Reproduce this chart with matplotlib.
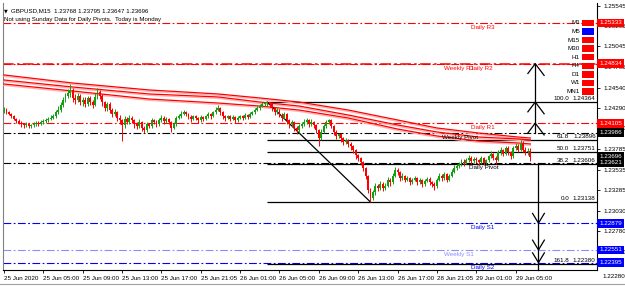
import matplotlib
matplotlib.use('Agg')
import matplotlib.pyplot as plt
import matplotlib.transforms as mtransforms
import matplotlib.patheffects as pe
import numpy as np

FONT = ['Liberation Sans', 'DejaVu Sans']
plt.rcParams['font.family'] = FONT

# ---------------- data ----------------
symbol = 'GBPUSD,M15'
first_open = 1.2425
close = [
1.2427,1.2424,1.2422,1.2419,1.2416,1.2413,1.2411,1.2409,1.2408,1.2409,
1.2407,1.2408,1.2409,1.2411,1.2409,1.2412,1.2413,1.2414,1.2416,1.2417,
1.2419,1.2424,1.2427,1.2433,1.2439,1.2444,1.2447,1.2451,1.2441,1.2439,
1.2444,1.2436,1.2439,1.2434,1.2441,1.2436,1.2433,1.2443,1.2449,1.2444,
1.2436,1.2429,1.2434,1.2427,1.2422,1.2424,1.2417,1.2414,1.2408,1.2416,
1.2412,1.2417,1.2414,1.2409,1.2407,1.2412,1.2405,1.2402,1.2409,1.2407,
1.2414,1.2412,1.2409,1.2414,1.2417,1.2413,1.2416,1.2412,1.2405,1.2409,
1.2417,1.2419,1.2422,1.2424,1.2422,1.2418,1.2416,1.2419,1.2417,1.2414,
1.2418,1.2416,1.2419,1.2422,1.2419,1.2424,1.2427,1.2429,1.2424,1.2419,
1.2417,1.2419,1.2416,1.2418,1.2414,1.2417,1.2419,1.2417,1.2421,1.2418,
1.2422,1.2424,1.2427,1.2429,1.2432,1.2434,1.2435,1.2436,1.2434,1.2429,
1.2424,1.2427,1.2421,1.2417,1.2422,1.2414,1.2409,1.2412,1.2405,1.2402,
1.2407,1.2409,1.2412,1.2414,1.2409,1.2412,1.2408,1.2402,1.2392,1.2400,
1.2407,1.2412,1.2414,1.2407,1.2400,1.2395,1.2397,1.2392,1.2387,1.2390,
1.2385,1.2382,1.2378,1.2371,1.2368,1.2363,1.2356,1.2346,1.2329,1.2319,
1.2326,1.2334,1.2331,1.2336,1.2331,1.2334,1.2341,1.2338,1.2346,1.2353,
1.2351,1.2343,1.2346,1.2341,1.2343,1.2338,1.2341,1.2343,1.2338,1.2341,
1.2336,1.2340,1.2342,1.2338,1.2336,1.2334,1.2341,1.2346,1.2343,1.2348,
1.2341,1.2346,1.2351,1.2356,1.2358,1.2360,1.2363,1.2362,1.2365,1.2368,
1.2364,1.2367,1.2365,1.2363,1.2368,1.2362,1.2365,1.2370,1.2373,1.2368,
1.2365,1.2375,1.2378,1.2373,1.2380,1.2375,1.2370,1.2380,1.2382,1.2378,
1.2385,1.2378,1.2375,1.23768,1.23696]
high = [
1.2430,1.2429,1.2426,1.2423,1.2421,1.2417,1.2415,1.2413,1.2411,1.2412,
1.2411,1.2410,1.2412,1.2413,1.2413,1.2414,1.2416,1.2417,1.2418,1.2420,
1.2422,1.2427,1.2431,1.2436,1.2443,1.2448,1.2452,1.2458,1.2454,1.2446,
1.2448,1.2446,1.2442,1.2442,1.2444,1.2444,1.2439,1.2447,1.2454,1.2451,
1.2446,1.2438,1.2437,1.2436,1.2429,1.2428,1.2426,1.2420,1.2416,1.2419,
1.2418,1.2420,1.2419,1.2416,1.2412,1.2415,1.2413,1.2407,1.2412,1.2411,
1.2417,1.2416,1.2414,1.2417,1.2420,1.2419,1.2418,1.2417,1.2413,1.2412,
1.2419,1.2422,1.2425,1.2427,1.2426,1.2423,1.2420,1.2421,1.2421,1.2418,
1.2420,1.2419,1.2421,1.2424,1.2423,1.2426,1.2430,1.2433,1.2430,1.2426,
1.2421,1.2421,1.2420,1.2420,1.2419,1.2419,1.2421,1.2421,1.2423,1.2422,
1.2424,1.2426,1.2429,1.2431,1.2434,1.2436,1.2436,1.24364,1.2436,1.2435,
1.2430,1.2429,1.2428,1.2423,1.2424,1.2423,1.2416,1.2414,1.2413,1.2407,
1.2409,1.2412,1.2415,1.2417,1.2415,1.2415,1.2413,1.2409,1.2403,1.2403,
1.2410,1.2414,1.2416,1.2415,1.2408,1.2402,1.2399,1.2398,1.2393,1.2392,
1.2391,1.2387,1.2384,1.2379,1.2373,1.2369,1.2364,1.2357,1.2347,1.2331,
1.2329,1.2337,1.2336,1.2339,1.2338,1.2337,1.2344,1.2343,1.2349,1.2357,
1.2355,1.2352,1.2349,1.2347,1.2346,1.2345,1.2343,1.2346,1.2345,1.2343,
1.2342,1.2342,1.2345,1.2344,1.2340,1.2338,1.2343,1.2349,1.2348,1.2351,
1.2350,1.2348,1.2354,1.2359,1.2361,1.2363,1.2366,1.2366,1.2368,1.2371,
1.2370,1.2369,1.2369,1.2367,1.2370,1.2369,1.2367,1.2372,1.2376,1.2374,
1.2370,1.2377,1.2381,1.2379,1.2383,1.2382,1.2376,1.2383,1.2386,1.2385,
1.2390,1.2389,1.2381,1.2380,1.23795]
low = [
1.2423,1.2422,1.2420,1.2417,1.2414,1.2411,1.2409,1.2406,1.2405,1.2406,
1.2404,1.2405,1.2406,1.2407,1.2407,1.2408,1.2410,1.2411,1.2412,1.2414,
1.2415,1.2417,1.2422,1.2424,1.2430,1.2436,1.2441,1.2443,1.2437,1.2434,
1.2436,1.2433,1.2432,1.2430,1.2431,1.2433,1.2429,1.2431,1.2440,1.2440,
1.2432,1.2425,1.2426,1.2423,1.2418,1.2419,1.2413,1.2410,1.2389,1.2405,
1.2409,1.2410,1.2411,1.2405,1.2403,1.2404,1.2401,1.2398,1.2400,1.2404,
1.2405,1.2409,1.2406,1.2407,1.2412,1.2410,1.2411,1.2409,1.2400,1.2403,
1.2407,1.2415,1.2417,1.2420,1.2419,1.2415,1.2412,1.2414,1.2414,1.2411,
1.2412,1.2413,1.2414,1.2417,1.2416,1.2418,1.2422,1.2425,1.2421,1.2416,
1.2413,1.2415,1.2413,1.2414,1.2411,1.2412,1.2415,1.2414,1.2415,1.2415,
1.2417,1.2420,1.2422,1.2425,1.2427,1.2430,1.2431,1.2432,1.2430,1.2426,
1.2421,1.2422,1.2418,1.2413,1.2415,1.2410,1.2405,1.2406,1.2401,1.2397,
1.2399,1.2404,1.2407,1.2410,1.2406,1.2407,1.2404,1.2398,1.2382,1.2390,
1.2398,1.2405,1.2409,1.2404,1.2396,1.2391,1.2392,1.2388,1.2384,1.2385,
1.2381,1.2378,1.2374,1.2367,1.2364,1.2359,1.2352,1.2342,1.2325,1.23138,
1.2316,1.2323,1.2327,1.2328,1.2327,1.2328,1.2332,1.2334,1.2336,1.2344,
1.2347,1.2340,1.2341,1.2338,1.2339,1.2335,1.2336,1.2339,1.2335,1.2336,
1.2332,1.2334,1.2338,1.2335,1.2332,1.2328,1.2331,1.2339,1.2340,1.2341,
1.2338,1.2339,1.2344,1.2349,1.2353,1.2355,1.2358,1.2358,1.2360,1.2363,
1.2361,1.2362,1.2362,1.2359,1.2361,1.2359,1.2360,1.2363,1.2368,1.2365,
1.2361,1.2364,1.2372,1.2370,1.2371,1.2372,1.2366,1.2368,1.2377,1.2375,
1.2376,1.2375,1.2372,1.2372,1.23647]

# moving averages read at a few bars
ma_bars  = [0, 28, 59, 87, 104, 120, 140, 160, 176, 193, 209, 214]
ma_upper = [1.24696,1.24597,1.24512,1.24463,1.24414,1.24364,1.24266,1.24144,1.24046,1.23984,1.23935,1.23923]
ma_mid   = [1.24634,1.24548,1.24463,1.24426,1.24364,1.24315,1.24205,1.24083,1.23997,1.23935,1.23911,1.23899]
ma_lower = [1.24585,1.24499,1.24401,1.24352,1.24315,1.24266,1.24168,1.24033,1.23948,1.23886,1.23862,1.23850]

# fibonacci retracement
fib_start_bar = 107
fib_levels = ['100.0', '61.8', '50.0', '38.2', '0.0', '161.8']
fib_prices = [1.24364, 1.23896, 1.23751, 1.23606, 1.23138, 1.22380]
fib_trend_bars = [107, 149]
fib_trend_prices = [1.24364, 1.23138]

# pivot levels
pivot_names  = ['Daily R3', 'Weekly R1', 'Daily R2', 'Daily R1', 'Weekly Pivot', 'Daily Pivot', 'Daily S1', 'Weekly S1', 'Daily S2']
pivot_prices = [1.25333, 1.24834, 1.24834, 1.24105, 1.23986, 1.23621, 1.22879, 1.22551, 1.22395]
pivot_colors = ['#ff0000', '#ff0000', '#ff0000', '#ff0000', '#000000', '#000000', '#0000ff', '#8c8cff', '#0000ff']
pivot_label_bars = [190, 179, 189, 190, 178, 189, 190, 179, 190]

# right-axis price boxes
box_prices = [1.25333, 1.24834, 1.24105, 1.23986, 1.23696, 1.23621, 1.22879, 1.22551, 1.22395]
box_colors = ['#ff0000', '#ff0000', '#ff0000', '#000000', '#000000', '#000000', '#0000ff', '#0000ff', '#0000ff']

ytick_values = [1.25545, 1.25295, 1.25045, 1.24795, 1.24540, 1.24290, 1.24040,
                1.23785, 1.23535, 1.23285, 1.23030, 1.22780, 1.22530]
ytick_extra = 1.22280
xtick_bars = [0, 16, 32, 48, 64, 80, 96, 112, 128, 144, 160, 176, 192, 208]
xtick_labels = ['25 Jun 2020', '25 Jun 05:00', '25 Jun 09:00', '25 Jun 13:00', '25 Jun 17:00',
                '25 Jun 21:05', '26 Jun 01:00', '26 Jun 05:00', '26 Jun 09:00', '26 Jun 13:00',
                '26 Jun 17:00', '28 Jun 21:05', '29 Jun 01:00', '29 Jun 05:00']

# hand drawn arrows
arrow_up_bar = 216.0
arrow_up_from = 1.23986
arrow_up_heads = [1.24105, 1.24364, 1.24834]
arrow_dn_bar = 217.3
arrow_dn_from = 1.23621
arrow_dn_heads = [1.22879, 1.22551, 1.22395]

tf_names = ['M1', 'M5', 'M15', 'M30', 'H1', 'H4', 'D1', 'W1', 'MN1']
tf_colors = ['#ff0000', '#0000ff', '#ff0000', '#ff0000', '#ff0000', '#ff0000', '#ff0000', '#ff0000', '#ff0000']

# ---------------- figure ----------------
W, H = 625, 288
fig = plt.figure(figsize=(W / 100, H / 100), dpi=100)
fig.patch.set_facecolor('white')
ax = fig.add_axes([3 / W, 18 / H, 594 / W, 267 / H])
ax.set_xlim(-0.41, 241.1)
ax.set_ylim(1.22305, 1.25578)
FS = 4.5     # chart texts
FSA = 4.5    # axis texts
FSH = 4.4    # header

c = np.array(close)
o = np.array([first_open] + close[:-1])
hi = np.maximum(np.array(high), np.maximum(o, c))
lo = np.minimum(np.array(low), np.minimum(o, c))
idx = np.arange(len(c))
cols = np.where(c >= o, '#10a010', '#ff0000')

# pivot lines
dash = (0, (7, 2.2, 1.6, 2.2))
for name, p, col, lb in zip(pivot_names, pivot_prices, pivot_colors, pivot_label_bars):
    lw = 1.1 if name == 'Weekly R1' else 0.8
    ax.axhline(p, color=col, lw=lw, ls=dash, zorder=1)
    ax.annotate(name, xy=(lb, p), xytext=(0, -1.6), textcoords='offset points',
                ha='left', va='top', fontsize=FS, color=col, zorder=6)

# fib
ax.hlines(fib_prices, fib_start_bar, 241.1, color='black', lw=0.9, zorder=2)
ax.plot(fib_trend_bars, fib_trend_prices, color='black', lw=0.9, zorder=4)
trans = mtransforms.blended_transform_factory(ax.transAxes, ax.transData)
for lvl, p in zip(fib_levels, fib_prices):
    ax.annotate(f'{p:.5f}', xy=(1, p), xycoords=trans, xytext=(-1, 0.8),
                textcoords='offset points', ha='right', va='bottom', fontsize=FS, zorder=6)
    ax.annotate(lvl, xy=(1, p), xycoords=trans, xytext=(-20, 0.8),
                textcoords='offset points', ha='right', va='bottom', fontsize=FS, zorder=6)

# moving averages
for arr in (ma_upper, ma_mid, ma_lower):
    ax.plot(ma_bars, arr, color='#ff0000', lw=0.9, zorder=3,
            path_effects=[pe.SimpleLineShadow(offset=(0, -1.0), shadow_color='#ffb0b0', alpha=1.0),
                          pe.Normal()])

# candles
ax.vlines(idx, lo, hi, colors=cols, lw=0.7, zorder=5)
ax.bar(idx, np.maximum(np.abs(c - o), 0.000015), bottom=np.minimum(o, c), width=0.78,
       color=cols, linewidth=0, zorder=5)

# arrows
aw = 3.0
ah = 0.0012
ax.plot([arrow_up_bar, arrow_up_bar], [arrow_up_from, arrow_up_heads[-1]], color='black', lw=0.9, zorder=6)
for p in arrow_up_heads:
    ax.plot([arrow_up_bar - aw, arrow_up_bar, arrow_up_bar + aw * 1.2], [p - ah, p, p - ah * 1.2],
            color='black', lw=0.9, zorder=6)
ax.plot([arrow_dn_bar, arrow_dn_bar], [arrow_dn_from, 1.2230], color='black', lw=0.9, zorder=6, clip_on=False)
for p in arrow_dn_heads:
    ax.plot([arrow_dn_bar - aw * 0.8, arrow_dn_bar, arrow_dn_bar + aw * 0.8], [p + ah, p, p + ah],
            color='black', lw=0.9, zorder=6)

# axes styling
ax.spines['top'].set_visible(False)
for s in ('left', 'bottom', 'right'):
    ax.spines[s].set_linewidth(0.8)
    ax.spines[s].set_color('black')
ax.spines['left'].set_color('#808080')
ax.yaxis.tick_right()
ax.set_yticks(ytick_values)
ax.set_yticklabels([f'{v:.5f}' for v in ytick_values])
ax.tick_params(axis='y', length=2.5, width=0.6, pad=2.2, labelsize=FSA, direction='out')
ax.set_xticks(xtick_bars)
ax.set_xticklabels(xtick_labels)
ax.tick_params(axis='x', length=2.5, width=0.6, pad=2.0, labelsize=FSA, direction='out')
for lab in ax.get_xticklabels():
    lab.set_ha('left')
ax.annotate(f'{ytick_extra:.5f}', xy=(1, ytick_extra), xycoords=trans, xytext=(4.0, -3.0),
            textcoords='offset points', ha='left', va='center', fontsize=FSA, annotation_clip=False)

# price boxes
for p, col in zip(box_prices, box_colors):
    ax.annotate(f'{p:.5f}', xy=(1, p), xycoords=trans, xytext=(1.6, 0), textcoords='offset points',
                ha='left', va='center', fontsize=FSA, color='white', annotation_clip=False,
                bbox=dict(boxstyle='square,pad=0.3', fc=col, ec='none'), zorder=10)

# timeframe legend
for k, (nm, col) in enumerate(zip(tf_names, tf_colors)):
    ypx = 23 + 8.55 * k
    fig.text(580 / W, 1 - ypx / H, nm, ha='right', va='center', fontsize=FS)
    fig.patches.append(plt.Rectangle((582 / W, 1 - (ypx + 3.2) / H), 12 / W, 6.4 / H,
                                     transform=fig.transFigure, fc=col, ec='none', figure=fig))

# header
lo_last, hi_last = low[-1], high[-1]
fig.text(4 / W, 1 - 11 / H, '\u25bc', fontsize=3.5, ha='left', va='center', family=['DejaVu Sans'])
fig.text(11 / W, 1 - 11 / H,
         f'{symbol}  {close[-2]:.5f} {hi_last:.5f} {lo_last:.5f} {close[-1]:.5f}',
         fontsize=FSH, ha='left', va='center')
fig.text(4 / W, 1 - 19 / H, 'Not using Sunday Data for Daily Pivots.  Today is Monday',
         fontsize=FSH, ha='left', va='center')

# bottom strip
fig.add_artist(plt.Line2D([0, 1], [1 - 284 / H, 1 - 284 / H], transform=fig.transFigure,
                          color='#a0a0a0', lw=0.8))

fig.savefig('out.png', dpi=100)
